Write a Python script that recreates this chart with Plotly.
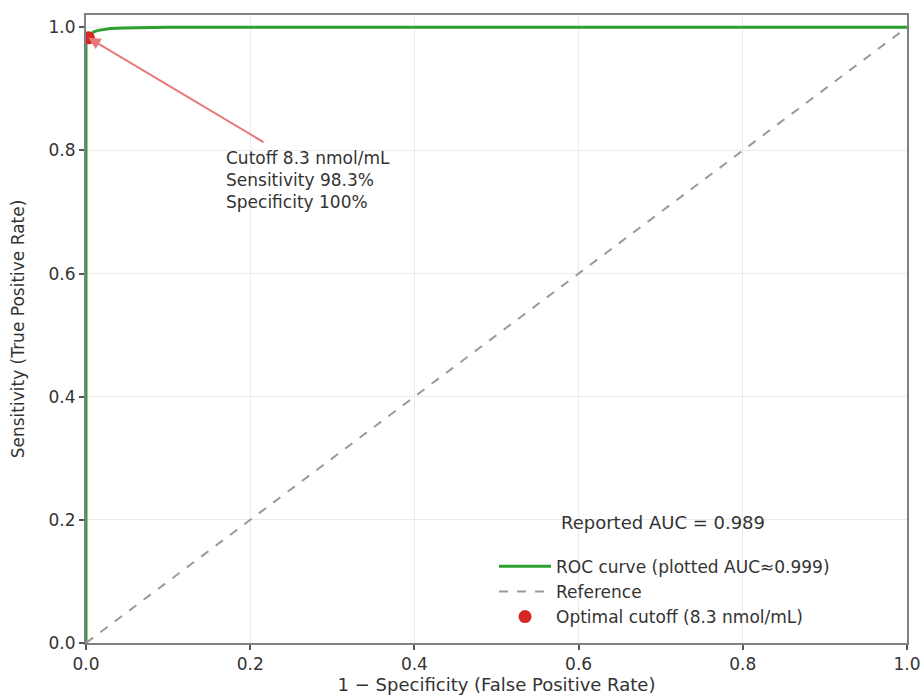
import plotly.graph_objects as go

# ROC curve values
fpr = [0.0, 0.0, 0.0, 0.003, 0.006, 0.010, 0.015, 0.020, 0.030, 0.045, 0.070, 0.100, 0.300, 0.600, 1.000]
tpr = [0.0, 0.500, 0.983, 0.987, 0.990, 0.993, 0.995, 0.996, 0.998, 0.999, 1.000, 1.000, 1.000, 1.000, 1.000]
ref_x = [0.0, 1.0]
ref_y = [0.0, 1.0]
opt_fpr = [0.003]
opt_tpr = [0.983]
x_ticks = [0.0, 0.2, 0.4, 0.6, 0.8, 1.0]
y_ticks = [0.0, 0.2, 0.4, 0.6, 0.8, 1.0]

FONT = "DejaVu Sans"
TXT = "#333333"

fig = go.Figure()
fig.add_trace(go.Scatter(x=fpr, y=tpr, mode="lines",
                         line=dict(color="#2ca02c", width=3),
                         name="ROC curve (plotted AUC≈0.999)"))
fig.add_trace(go.Scatter(x=ref_x, y=ref_y, mode="lines",
                         line=dict(color="#9a9a9a", width=2, dash="dash"),
                         name="Reference"))
fig.add_trace(go.Scatter(x=opt_fpr, y=opt_tpr, mode="markers",
                         marker=dict(color="#d62728", size=13),
                         name="Optimal cutoff (8.3 nmol/mL)"))

fig.add_annotation(x=opt_fpr[0], y=opt_tpr[0], xref="x", yref="y",
                   ax=0.218, ay=0.812, axref="x", ayref="y",
                   showarrow=True, arrowhead=2, arrowsize=1.2, arrowwidth=2,
                   arrowcolor="#e8777a", text="")
fig.add_annotation(x=0.168, y=0.808, xref="x", yref="y",
                   xanchor="left", yanchor="top", align="left", showarrow=False,
                   text="Cutoff 8.3 nmol/mL<br>Sensitivity 98.3%<br>Specificity 100%",
                   font=dict(family=FONT, size=17, color=TXT))
fig.add_annotation(x=0.703, y=0.195, xref="x", yref="y",
                   xanchor="center", yanchor="middle", showarrow=False,
                   text="Reported AUC = 0.989",
                   font=dict(family=FONT, size=18, color=TXT))

axis_common = dict(showline=True, linecolor="#808080", linewidth=2, mirror=True,
                   ticks="outside", ticklen=5, tickcolor="#555555", tickwidth=1.5,
                   showgrid=True, gridcolor="#ebebeb", gridwidth=1, zeroline=False,
                   automargin=False,
                   tickfont=dict(family=FONT, size=17, color=TXT))

fig.update_xaxes(range=[0, 1.0], tickvals=x_ticks, tickformat=".1f",
                 title=dict(text="1 − Specificity (False Positive Rate)",
                            font=dict(family=FONT, size=18, color=TXT), standoff=4),
                 **axis_common)
fig.update_yaxes(range=[0, 1.02], tickvals=y_ticks, tickformat=".1f",
                 title=dict(text="Sensitivity (True Positive Rate)",
                            font=dict(family=FONT, size=17, color=TXT),
                            standoff=20),
                 **axis_common)

fig.update_layout(
    width=922, height=696,
    margin=dict(l=86, r=15, t=15, b=53),
    plot_bgcolor="white", paper_bgcolor="white",
    font=dict(family=FONT, color=TXT),
    legend=dict(x=0.497, y=0.15, xanchor="left", yanchor="top",
                bgcolor="rgba(255,255,255,0)", borderwidth=0,
                itemwidth=52,
                font=dict(family=FONT, size=17, color=TXT)),
)

fig.write_html("out.html", config={"displayModeBar": False},
               post_script="document.body.style.margin='0px';document.body.style.overflow='hidden';")
